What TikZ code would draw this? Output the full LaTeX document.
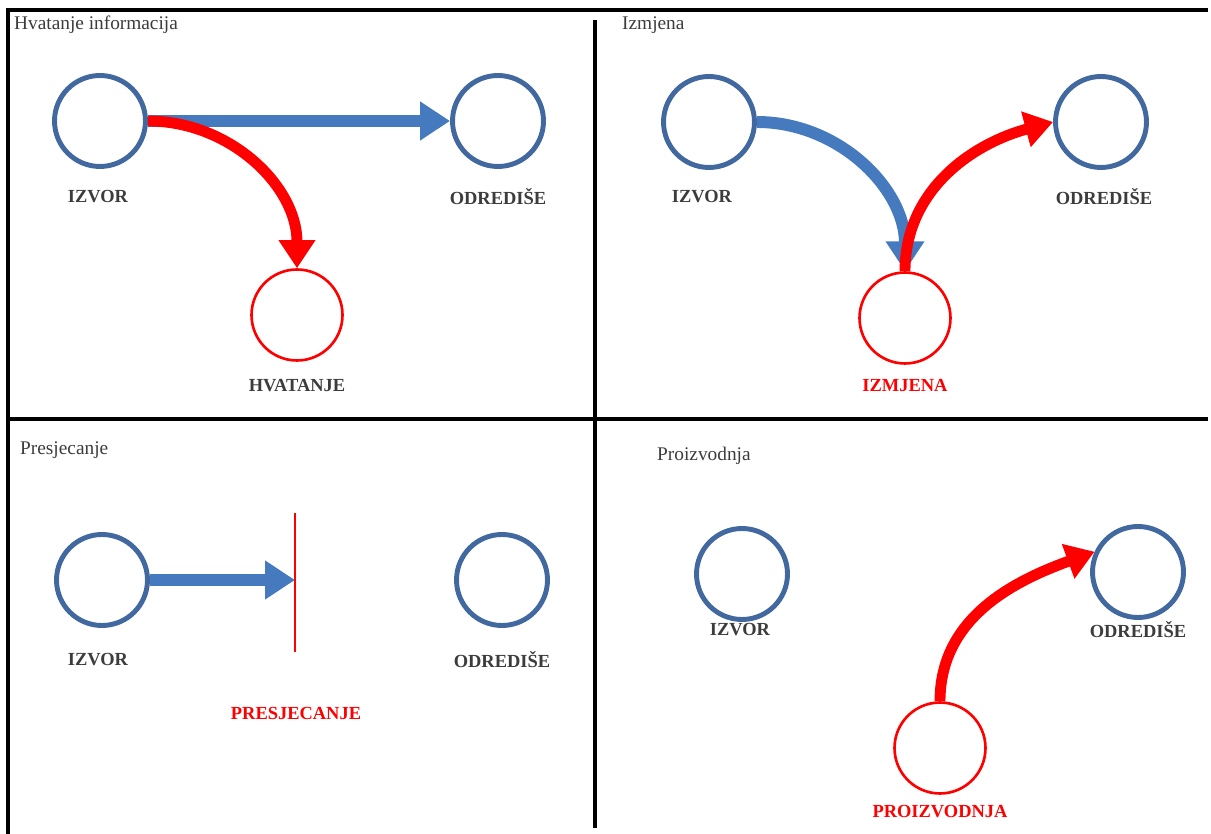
\documentclass[tikz,border=0pt]{standalone}
\usepackage{fontspec}
\setmainfont{Liberation Serif}
\usetikzlibrary{arrows.meta}
\definecolor{ringblue}{RGB}{66,104,160}
\definecolor{flowblue}{RGB}{70,122,190}
\definecolor{flowred}{RGB}{255,0,0}
\definecolor{labelgrey}{RGB}{60,60,60}
\tikzset{
    station/.style={circle, draw=ringblue, line width=2.8pt, minimum size=1.82cm, inner sep=0pt},
    attacker/.style={circle, draw=flowred, line width=1.5pt, minimum size=1.82cm, inner sep=0pt},
    stationlabel/.style={font=\fontsize{10.5}{12}\selectfont\bfseries, text=labelgrey},
    attacklabel/.style={font=\fontsize{10.5}{12}\selectfont\bfseries, text=flowred},
    paneltitle/.style={font=\fontsize{11}{13}\selectfont, text=labelgrey, anchor=west},
    blueflow/.style={draw=flowblue, line width=6.8pt, -{Triangle[length=17pt,width=21pt]}},
    redflow/.style={draw=flowred, line width=6.2pt, -{Triangle[length=16pt,width=20pt]}},
    frameline/.style={line width=2.3pt}
}
\begin{document}
\begin{tikzpicture}[x=0.02cm, y=-0.02cm]
    \useasboundingbox (0, 0) rectangle (1211, 834);
    \draw[frameline] (8, 834) -- (8, 10) -- (1208, 10);
    \draw[frameline] (8, 419) -- (1208, 419);
    \draw[frameline] (595, 20) -- (595, 828);
    \begin{scope}
        \node[paneltitle] (t1) at (8, 25) {Hvatanje informacija};
        \node[station] (izv1) at (100, 121) {};
        \node[station] (odr1) at (498, 121) {};
        \node[attacker] (hv) at (297, 315) {};
        \node[stationlabel] (izv1l) at (98, 197) {IZVOR};
        \node[stationlabel] (odr1l) at (498, 197) {ODREDIŠE};
        \node[stationlabel] (hvl) at (297, 386) {HVATANJE};
        \draw[blueflow] (izv1.east) -- (odr1.west);
        \draw[redflow] (izv1.east) to[out=0, in=90] (hv.north);
    \end{scope}
    \begin{scope}
        \node[paneltitle] (t2) at (616, 25) {Izmjena};
        \node[station] (izv2) at (709, 122) {};
        \node[station] (odr2) at (1101, 122) {};
        \node[attacker] (izm) at (905, 318) {};
        \node[stationlabel] (izv2l) at (702, 197) {IZVOR};
        \node[stationlabel] (odr2l) at (1104, 197) {ODREDIŠE};
        \node[attacklabel] (izml) at (905, 386) {IZMJENA};
        \draw[blueflow] (izv2.east) to[out=0, in=90] (izm.north);
        \draw[redflow] (izm.north) to[out=90, in=195] (odr2.west);
    \end{scope}
    \begin{scope}
        \node[paneltitle] (t3) at (14, 450) {Presjecanje};
        \node[station] (izv3) at (102, 580) {};
        \node[station] (odr3) at (502, 580) {};
        \coordinate (cuttop) at (295, 513);
        \coordinate (cutbot) at (295, 652);
        \coordinate (cut) at (295, 580);
        \node[stationlabel] (izv3l) at (98, 660) {IZVOR};
        \node[stationlabel] (odr3l) at (502, 660) {ODREDIŠE};
        \node[attacklabel] (prel) at (296, 713) {PRESJECANJE};
        \draw[flowred, line width=0.8pt] (cuttop) -- (cutbot);
        \draw[blueflow] (izv3.east) -- (cut);
    \end{scope}
    \begin{scope}
        \node[paneltitle] (t4) at (651, 456) {Proizvodnja};
        \node[station] (izv4) at (742, 574) {};
        \node[station] (odr4) at (1138, 572) {};
        \node[attacker] (pro) at (940, 748) {};
        \node[stationlabel] (izv4l) at (740, 630) {IZVOR};
        \node[stationlabel] (odr4l) at (1138, 630) {ODREDIŠE};
        \node[attacklabel] (prol) at (940, 812) {PROIZVODNJA};
        \draw[redflow] (pro.north) to[out=90, in=200] (odr4.155);
    \end{scope}
\end{tikzpicture}
\end{document}
